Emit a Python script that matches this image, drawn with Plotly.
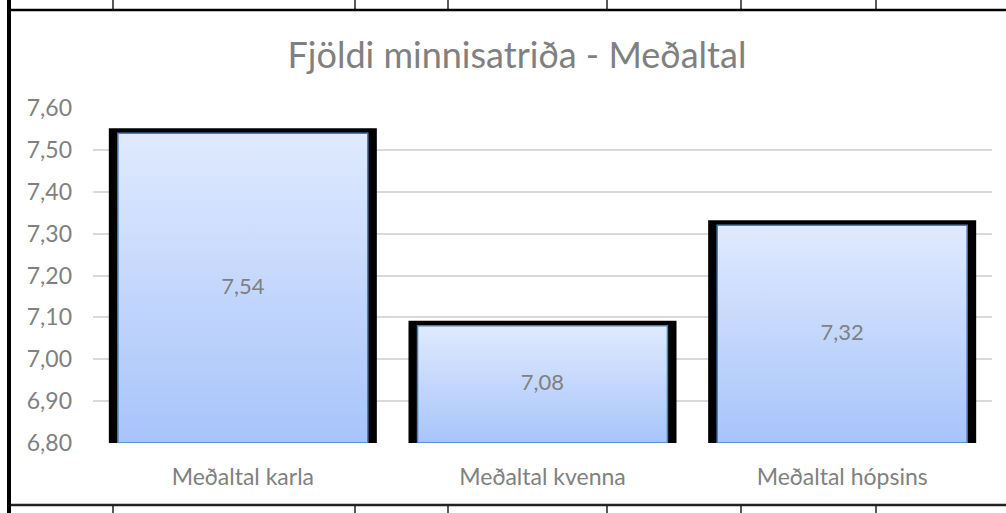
import plotly.graph_objects as go

# ---- data ----
categories = ["Meðaltal karla", "Meðaltal kvenna", "Meðaltal hópsins"]
values = [7.54, 7.08, 7.32]
y_min, y_max, y_step = 6.80, 7.60, 0.10
title_text = "Fjöldi minnisatriða - Meðaltal"

# ---- layout geometry (pixels) ----
W, H = 1006, 513
L, R, T, B = 93, 14, 108, 70
PW, PH = W - L - R, H - T - B

def px(x):
    return (x - L) / PW

def py(y):
    return (H - B - y) / PH

FONT = "Lato"
GRAY = "#808080"
inner_w = 0.834
outer_w = 0.861

xs = list(range(len(categories)))
fig = go.Figure()

# black frame bars
fig.add_trace(go.Bar(
    x=xs, y=values, width=outer_w,
    marker=dict(color="black", line=dict(color="black", width=10)),
    hoverinfo="skip", showlegend=False,
))

# gradient-filled bars
for i, v in zip(xs, values):
    x0, x1 = i - inner_w / 2, i + inner_w / 2
    fig.add_trace(go.Scatter(
        x=[x0, x1, x1, x0, x0], y=[y_min, y_min, v, v, y_min],
        mode="lines", fill="toself",
        fillgradient=dict(type="vertical",
                          colorscale=[[0, "#a7c4fa"], [1, "#e0eafe"]]),
        line=dict(color="#4a7ebb", width=1.5),
        hoverinfo="skip", showlegend=False,
    ))

# data labels at middle of visible bars
fig.add_trace(go.Scatter(
    x=xs, y=[(v + y_min) / 2 for v in values],
    mode="text",
    text=[f"{v:.2f}".replace(".", ",") for v in values],
    textfont=dict(family=FONT, size=22, color=GRAY),
    hoverinfo="skip", showlegend=False,
))

ticks = [round(y_min + k * y_step, 2) for k in range(int(round((y_max - y_min) / y_step)) + 1)]

shapes = []
def line(x0, y0, x1, y1, color="black", width=1):
    shapes.append(dict(type="line", xref="paper", yref="paper",
                       x0=px(x0), y0=py(y0), x1=px(x1), y1=py(y1),
                       line=dict(color=color, width=width)))

# spreadsheet cell borders
line(11, 10, W, 10, "#000000", 2.5)
line(11, 505, W, 505, "#222222", 2.5)
for cx in [113, 355, 448, 607, 741, 876]:
    line(cx, 0, cx, 9, "#000000", 1.3)
    line(cx, 506, cx, H, "#000000", 1.3)
shapes.append(dict(type="rect", xref="paper", yref="paper",
                   x0=px(7), x1=px(11), y0=py(0), y1=py(H),
                   fillcolor="black", line=dict(width=0)))

fig.update_layout(
    width=W, height=H,
    margin=dict(l=L, r=R, t=T, b=B, pad=0),
    paper_bgcolor="white", plot_bgcolor="white",
    separators=",.",
    barmode="overlay",
    title=dict(text=title_text, x=px(517), xref="paper", xanchor="center",
               y=1 - 55 / H, yref="container", yanchor="middle",
               font=dict(family=FONT, size=36, color=GRAY)),
    xaxis=dict(range=[-0.5, len(categories) - 0.5], tickvals=xs, ticktext=categories,
               showgrid=False, zeroline=False, showline=False, ticks="",
               ticklabelstandoff=18,
               tickfont=dict(family=FONT, size=23, color=GRAY), fixedrange=True),
    yaxis=dict(range=[y_min, y_max], tickvals=ticks, tickformat=".2f",
               showgrid=True, gridcolor="#d9d9d9", gridwidth=1.5,
               zeroline=False, showline=False, ticks="",
               ticklabelstandoff=20,
               tickfont=dict(family=FONT, size=23, color=GRAY), fixedrange=True),
    shapes=shapes,
)

fig.write_html("out.html", post_script="document.body.style.margin='0';",
               config={"displayModeBar": False})
